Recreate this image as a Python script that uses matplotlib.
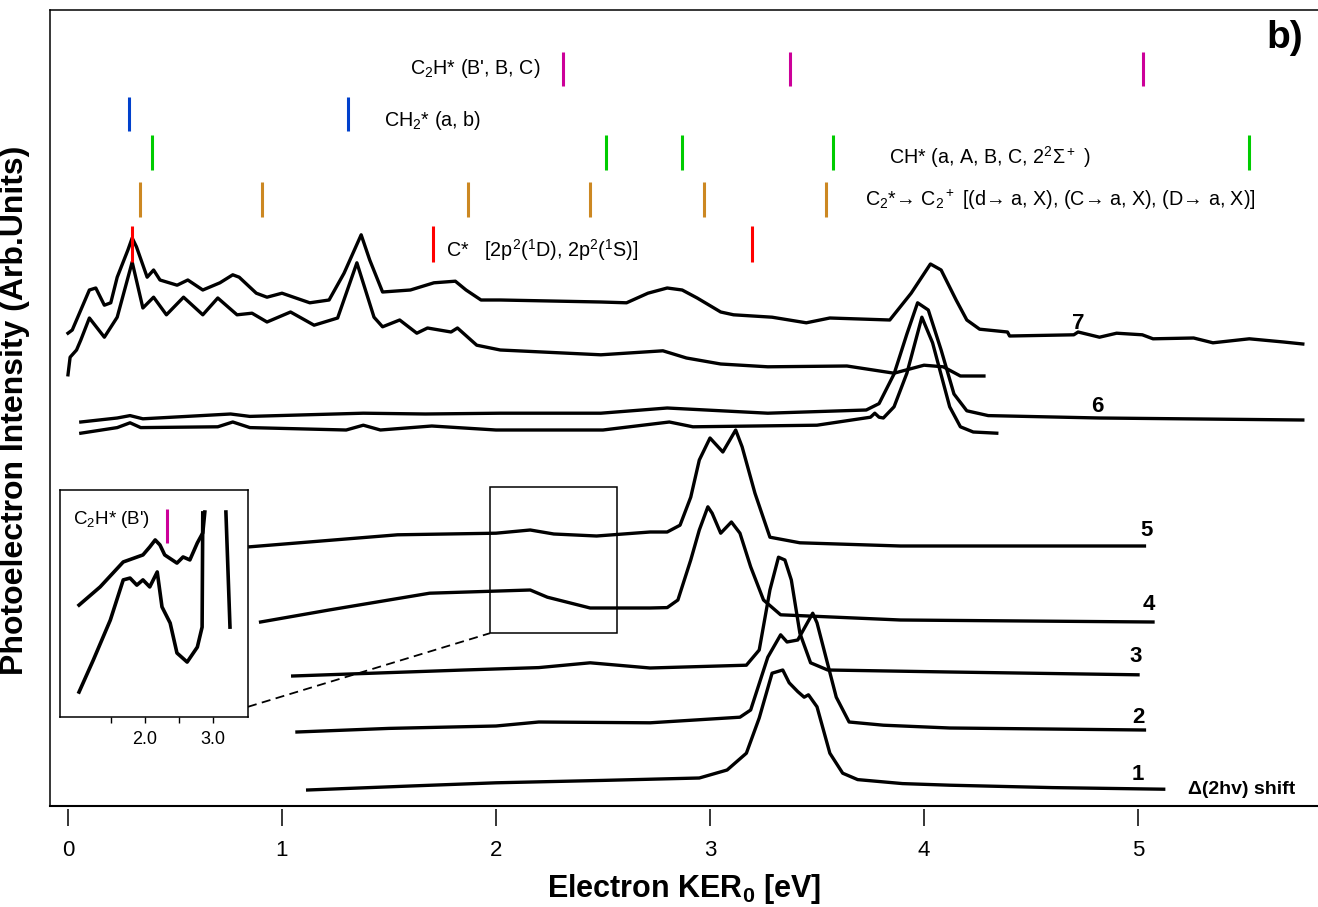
import numpy as np
import matplotlib
matplotlib.use('Agg')
import matplotlib.pyplot as plt
from matplotlib.patches import Rectangle

SANS = ['Liberation Sans', 'DejaVu Sans']
plt.rcParams['font.family'] = SANS
plt.rcParams['mathtext.fontset'] = 'custom'
plt.rcParams['mathtext.rm'] = 'Liberation Sans'
plt.rcParams['mathtext.it'] = 'Liberation Sans:italic'
plt.rcParams['mathtext.bf'] = 'Liberation Sans:bold'

# ---- spectra (electron KER0 in eV, intensity in arb. units incl. offset) ----
x1 = [1.12, 1.60, 2.00, 2.50, 2.95, 3.08, 3.17, 3.23, 3.29, 3.34, 3.37, 3.41, 3.44, 3.46, 3.50,
      3.56, 3.62, 3.69, 3.90, 4.12, 4.60, 5.12]
y1 = [2.0, 2.5, 2.9, 3.2, 3.5, 4.5, 6.6, 11.0, 16.6, 17.0, 15.4, 14.3, 13.6, 13.9, 12.4,
      6.6, 4.1, 3.3, 2.8, 2.6, 2.3, 2.1]

x2 = [1.07, 1.50, 2.00, 2.20, 2.72, 3.14, 3.19, 3.27, 3.33, 3.36, 3.41, 3.48, 3.50, 3.59,
      3.65, 3.81, 4.12, 5.03]
y2 = [9.25, 9.7, 10.0, 10.5, 10.4, 11.1, 12.0, 18.6, 21.4, 20.5, 20.75, 24.1, 22.9, 13.6,
      10.5, 10.1, 9.75, 9.5]

x3 = [1.05, 1.85, 2.20, 2.44, 2.72, 3.17, 3.23, 3.28, 3.32, 3.35, 3.38, 3.42, 3.47, 3.55,
      4.12, 5.00]
y3 = [16.25, 17.0, 17.3, 17.9, 17.25, 17.6, 19.5, 27.0, 31.1, 30.75, 28.25, 21.6, 17.9, 17.0,
      16.75, 16.4]

x4 = [0.90, 1.22, 1.69, 2.16, 2.24, 2.44, 2.72, 2.80, 2.85, 2.91, 2.95, 2.99, 3.01, 3.05,
      3.10, 3.14, 3.19, 3.25, 3.33, 3.89, 4.12, 5.07]
y4 = [23.0, 24.5, 26.6, 27.0, 26.1, 24.75, 24.75, 24.8, 25.75, 30.75, 34.5, 37.4, 36.6, 34.1,
      35.5, 34.1, 29.9, 25.75, 23.9, 23.25, 23.2, 23.0]

x5 = [0.85, 1.54, 2.00, 2.16, 2.27, 2.47, 2.72, 2.80, 2.86, 2.91, 2.95, 3.00, 3.06, 3.12,
      3.15, 3.21, 3.28, 3.42, 3.89, 5.03]
y5 = [32.4, 33.9, 34.1, 34.5, 34.0, 33.75, 34.25, 34.25, 35.1, 38.6, 43.25, 46.0, 44.25, 47.0,
      44.9, 39.1, 33.6, 32.9, 32.5, 32.5]

x6a = [0.06, 0.23, 0.29, 0.35, 0.76, 0.85, 1.38, 1.67, 2.02, 2.49, 2.80, 3.27, 3.73, 3.79,
       3.86, 3.92, 3.97, 4.02, 4.08, 4.14, 4.20, 4.30, 4.82, 5.77]
y6a = [48.0, 48.5, 48.8, 48.4, 49.0, 48.7, 49.1, 49.0, 49.1, 49.1, 49.75, 49.1, 49.5, 50.3,
       54.0, 59.0, 62.9, 62.0, 57.0, 51.5, 49.4, 48.8, 48.5, 48.25]

x6b = [0.06, 0.23, 0.29, 0.34, 0.70, 0.77, 0.85, 1.30, 1.38, 1.46, 1.70, 2.00, 2.50, 2.81,
       2.92, 3.50, 3.75, 3.77, 3.79, 3.81, 3.86, 3.92, 3.99, 4.04, 4.12, 4.17, 4.23, 4.34]
y6b = [46.6, 47.3, 47.9, 47.3, 47.4, 48.0, 47.3, 47.0, 47.6, 47.0, 47.5, 47.0, 47.0, 48.0,
       47.4, 47.6, 48.6, 49.1, 48.6, 48.5, 49.9, 54.1, 61.1, 57.9, 49.9, 47.4, 46.75, 46.6]

x7a = [0.00, 0.02, 0.04, 0.10, 0.13, 0.17, 0.20, 0.23, 0.28, 0.30, 0.32, 0.37, 0.40, 0.43,
       0.51, 0.56, 0.63, 0.71, 0.77, 0.80, 0.88, 0.93, 1.00, 1.13, 1.22, 1.29, 1.37, 1.41,
       1.47, 1.60, 1.71, 1.81, 1.86, 1.93, 2.02, 2.49, 2.61, 2.71, 2.80, 2.87, 2.94, 3.05,
       3.11, 3.29, 3.45, 3.56, 3.84, 3.94, 4.03, 4.08, 4.15, 4.20, 4.26, 4.39, 4.40, 4.70,
       4.72, 4.82, 4.90, 5.02, 5.07, 5.26, 5.35, 5.52, 5.68, 5.77]
y7a = [59.1, 59.5, 60.75, 64.5, 64.75, 62.6, 62.9, 66.1, 69.5, 71.0, 69.9, 66.1, 67.0, 65.75,
       65.1, 65.75, 64.5, 65.4, 66.4, 66.1, 64.1, 63.6, 64.1, 62.9, 63.25, 66.6, 71.4, 68.25,
       64.25, 64.5, 65.4, 65.6, 64.5, 63.25, 63.25, 63.0, 62.9, 64.1, 64.75, 64.5, 63.5, 61.75,
       61.4, 61.1, 60.4, 61.0, 60.75, 64.1, 67.75, 67.0, 63.25, 60.75, 59.6, 59.25, 58.75, 58.9,
       59.25, 58.6, 59.1, 58.9, 58.4, 58.5, 57.9, 58.4, 58.0, 57.75]

x7b = [0.00, 0.01, 0.04, 0.06, 0.10, 0.17, 0.23, 0.30, 0.35, 0.40, 0.46, 0.54, 0.63, 0.70,
       0.79, 0.86, 0.93, 1.04, 1.15, 1.26, 1.35, 1.43, 1.47, 1.55, 1.63, 1.68, 1.79, 1.82,
       1.91, 2.02, 2.49, 2.78, 2.89, 3.05, 3.27, 3.64, 3.86, 4.00, 4.09, 4.17, 4.28]
y7b = [53.9, 56.1, 57.0, 58.25, 61.0, 58.6, 61.1, 68.0, 62.25, 63.6, 61.4, 63.6, 61.4, 63.5,
       61.4, 61.6, 60.5, 61.75, 60.1, 61.0, 67.9, 61.1, 59.9, 60.75, 59.1, 59.75, 59.25, 59.75,
       57.6, 57.0, 56.4, 56.9, 56.0, 55.25, 54.9, 55.0, 54.1, 55.1, 54.9, 53.75, 53.75]

traces = [(x1, y1), (x2, y2), (x3, y3), (x4, y4), (x5, y5),
          (x6a, y6a), (x6b, y6b), (x7a, y7a), (x7b, y7b)]

trace_labels = ['1', '2', '3', '4', '5', '6', '7']
label_x = [5.00, 5.00, 4.99, 5.05, 5.04, 4.81, 4.72]
label_y = [4.0, 11.1, 18.7, 25.2, 34.5, 49.9, 60.3]

# ---- assignment markers (eV) ----
c2h_pos = [2.313, 3.374, 5.023]
ch2_pos = [0.285, 1.308]
ch_pos = [0.393, 2.514, 2.869, 3.575, 5.519]
c2_pos = [0.336, 0.907, 1.869, 2.439, 2.972, 3.542]
c_pos = [0.299, 1.706, 3.196]

# ---- inset spectra ----
xin_a = [1.03, 1.34, 1.68, 1.97, 2.07, 2.15, 2.22, 2.29, 2.47, 2.56, 2.66, 2.77, 2.85, 2.88,
         np.nan, 3.19, 3.25]
yin_a = [49.3, 57.3, 68.3, 71.4, 74.9, 78.0, 75.8, 71.4, 67.8, 70.5, 69.2, 76.7, 81.1, 90.3,
         np.nan, 90.3, 39.6]
xin_b = [1.03, 1.24, 1.49, 1.68, 1.78, 1.88, 1.97, 2.07, 2.18, 2.25, 2.37, 2.47, 2.62, 2.77,
         2.84, 2.85]
yin_b = [11.0, 25.1, 42.7, 60.4, 61.2, 58.1, 60.4, 57.3, 63.9, 48.5, 41.4, 28.2, 24.2, 30.8,
         39.6, 89.9]

fig = plt.figure(figsize=(13.18, 9.07), dpi=100)
ax = fig.add_axes([50 / 1318, 1 - 806 / 907, 1268 / 1318, 796 / 907])

for xs, ys in traces:
    ax.plot(xs, ys, color='black', lw=2.4, solid_joinstyle='round')

for t, lx, ly in zip(trace_labels, label_x, label_y):
    ax.text(lx, ly, t, fontweight='bold', fontsize=16, ha='center', va='center')
ax.text(5.234, 2.0, '\u0394(2hv) shift', fontweight='bold', fontsize=14,
        ha='left', va='center')

# coloured assignment bars
ax.vlines(c2h_pos, 90.0, 94.25, color='#cc0099', lw=2.2)
ax.vlines(ch2_pos, 84.4, 88.6, color='#0040cc', lw=2.2)
ax.vlines(ch_pos, 79.5, 83.9, color='#00cc00', lw=2.2)
ax.vlines(c2_pos, 73.6, 78.0, color='#cc8822', lw=2.2)
ax.vlines(c_pos, 68.0, 72.5, color='#ff0000', lw=2.2)

fs = 14.2
ax.text(2.206, 92.25, "C$_2$H* (B', B, C)", fontsize=fs, ha='right', va='center')
ax.text(1.477, 85.75, 'CH$_2$* (a, b)', fontsize=fs, ha='left', va='center')
ax.text(3.836, 81.1, 'CH* (a, A, B, C, 2$^2\\Sigma^+$ )', fontsize=fs, ha='left', va='center')
ax.text(3.724, 75.75, 'C$_2$*\u2192 C$_2$$^+$ [(d\u2192 a, X), (C\u2192 a, X), (D\u2192 a, X)]',
        fontsize=fs, ha='left', va='center')
ax.text(1.766, 69.5, 'C*   [2p$^2$($^1$D), 2p$^2$($^1$S)]', fontsize=fs, ha='left', va='center')

ax.text(0.988, 0.965, 'b)', transform=ax.transAxes, fontweight='bold',
        fontsize=28, ha='right', va='center')

# zoom box and guide line
ax.add_patch(Rectangle((1.972, 21.6), 0.593, 18.3, fill=False, lw=1.1, ec='black'))
ax.plot([0.841, 1.972], [12.4, 21.6], color='black', lw=1.3, dashes=(5, 3))

ax.set_xlim(-0.084, 5.841)
ax.set_ylim(0, 99.5)
ax.set_yticks([])
ax.set_xticks([0, 1, 2, 3, 4, 5])
ax.tick_params(axis='x', direction='out', length=12, width=1.1, pad=10, labelsize=16)
for s in ['top', 'left']:
    ax.spines[s].set_linewidth(1.1)
ax.spines['right'].set_visible(False)
ax.spines['bottom'].set_position(('outward', 2.2))
ax.spines['bottom'].set_color('none')
ax.axhline(0, color='black', lw=1.5, clip_on=False)
ax.set_xlabel('Electron KER$_\\mathbf{0}$ [eV]', fontweight='bold', fontsize=22, labelpad=8)
ax.set_ylabel('Photoelectron Intensity (Arb.Units)', fontweight='bold', fontsize=23)
ax.yaxis.set_label_coords(-0.016, 0.497)

# inset
axi = fig.add_axes([60 / 1318, 1 - 717 / 907, 188 / 1318, 227 / 907])
axi.plot(xin_a, yin_a, color='black', lw=2.6)
axi.plot(xin_b, yin_b, color='black', lw=2.6)
axi.vlines([2.324], 76.7, 91.6, color='#cc0099', lw=2.2)
axi.text(0.94, 86.8, "C$_2$H* (B')", fontsize=13.5, ha='left', va='center')
axi.set_xlim(0.75, 3.515)
axi.set_ylim(0, 100)
axi.set_yticks([])
axi.set_xticks([1.5, 2.0, 2.5, 3.0])
axi.set_xticklabels(['', '2.0', '', '3.0'])
axi.tick_params(axis='x', direction='out', length=4, width=1.0, pad=6, labelsize=13)
for s in axi.spines.values():
    s.set_linewidth(1.1)

fig.savefig('out.png', dpi=100)
